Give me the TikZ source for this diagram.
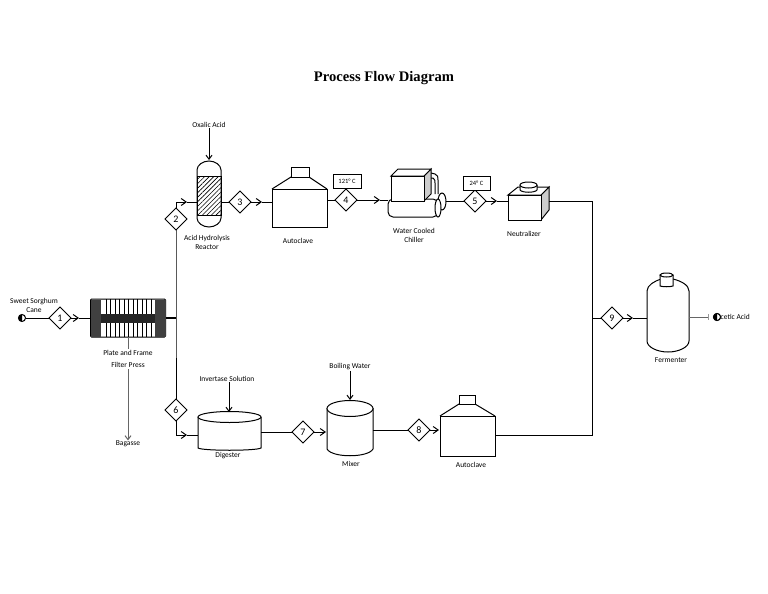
\documentclass[tikz,border=0pt]{standalone}
\usepackage{fontspec}
\setmainfont{Carlito}
\newfontfamily\titlefont{Liberation Serif}
\usetikzlibrary{shapes.geometric,patterns.meta,arrows.meta}
\tikzset{
  label/.style={inner sep=0pt,font=\fontsize{7.5}{9}\selectfont,align=center},
  tag/.style={draw,fill=white,inner sep=0pt,outer sep=0pt,minimum width=28pt,minimum height=14pt,font=\fontsize{6.5}{8}\selectfont},
  stream/.style={diamond,draw,fill=white,inner sep=0pt,outer sep=0pt,minimum width=22pt,minimum height=22pt,font=\fontsize{10}{12}\selectfont},
  body/.style={draw,fill=white,inner sep=0pt,outer sep=0pt},
  port/.style={circle,draw,fill=white,inner sep=0pt,outer sep=0pt,minimum size=7pt},
  flow/.style={-{Straight Barb[length=5pt,width=7pt]}},
  feed/.style={-{Straight Barb[length=4pt,width=6pt]}}
}
\begin{document}
\begin{tikzpicture}[x=1pt,y=-1pt,line width=1pt]
\useasboundingbox (0,0) rectangle (768,594);
\node [inner sep=0pt,font=\titlefont\bfseries\fontsize{14.6}{18}\selectfont] (title) at (384,78) {Process Flow Diagram};

% nodes of the streams
\node [port] (src) at (22,318) {};
\node [port] (out) at (717,317) {};
\node [stream] (s1) at (60,318) {1};
\node [stream] (s2) at (176,219) {2};
\node [stream] (s3) at (240,202) {3};
\node [stream] (s4) at (346,200) {4};
\node [stream] (s5) at (475,201) {5};
\node [stream] (s6) at (176,410) {6};
\node [stream] (s7) at (303,432) {7};
\node [stream] (s8) at (419,430) {8};
\node [stream] (s9) at (612,318) {9};
\node [tag] (t4) at (347,181) {121° C};
\node [tag,minimum width=27pt] (t5) at (476.5,183) {24° C};

% filter press
\node [body,minimum width=75pt,minimum height=38pt,rounded corners=1pt] (press) at (128,318) {};
\foreach \x in {106,110.5,...,152}
  \draw (\x,299) -- (\x,337);
\fill [black!75] (90.5,299.5) rectangle (101,336.5);
\fill [black!75] (155,299.5) rectangle (165.5,336.5);
\fill [black!85] (101,314) rectangle (155,323);

% reactor
\node [body,minimum width=24pt,minimum height=48pt,draw=none] (reactor) at (209,194) {};
\draw [fill=white] (reactor.north west) .. controls (197,165) and (203,161) .. (209,161)
  .. controls (215,161) and (221,165) .. (reactor.north east) -- (reactor.south east)
  .. controls (221,223) and (215,227) .. (209,227) .. controls (203,227) and (197,223) .. (reactor.south west) -- cycle;
\draw [pattern={Lines[angle=45,distance=3.2pt,line width=0.6pt]}] (197,176) rectangle (221,215);

% first autoclave
\node [body,minimum width=55pt,minimum height=38pt] (clave1) at (299.5,208) {};
\node [body,minimum width=18pt,minimum height=10pt] (cap1) at (300,172) {};
\draw (clave1.north west) -- (cap1.south west);
\draw (clave1.north east) -- (cap1.south east);

% chiller
\draw (431,173) -- (435,174) .. controls (438,175) and (438,177) .. (438,180) -- (438,194);
\draw (431,178) -- (433,178) .. controls (435,179) and (435,181) .. (435,183) -- (435,194);
\draw [fill=white] (442,201.5) ellipse [x radius=4,y radius=8.5];
\node [body,minimum width=50pt,minimum height=18pt,rounded corners=5pt] (chiller) at (413,208) {};
\draw [fill=white] (438,208) ellipse [x radius=3,y radius=9];
\filldraw [fill=black!20] (424,176) -- (431,169) -- (431,194) -- (424,201) -- cycle;
\draw [fill=white] (391,176) -- (398,169) -- (431,169) -- (424,176) -- cycle;
\node [body,minimum width=33pt,minimum height=25pt] (chillbox) at (407.5,188.5) {};

% neutralizer
\filldraw [fill=black!20] (541,195) -- (549,187) -- (549,210) -- (541,220) -- cycle;
\draw [fill=white] (508,195) -- (518,187) -- (549,187) -- (541,195) -- cycle;
\node [body,minimum width=33pt,minimum height=25pt] (neutral) at (524.5,207.5) {};
\draw [fill=white] (520,185) -- (520,190) .. controls (522,193) and (535,193) .. (537,190) -- (537,185);
\draw [fill=white] (528.5,185) ellipse [x radius=8.5,y radius=3];

% fermenter
\node [body,minimum width=42pt,minimum height=50pt,draw=none] (ferm) at (668,316) {};
\draw [fill=white] (ferm.north west) .. controls (647,285) and (655,281) .. (661,279)
  -- (673,279) .. controls (681,281) and (689,285) .. (ferm.north east) -- (ferm.south east)
  .. controls (689,347) and (679,352) .. (668,352) .. controls (657,352) and (647,347) .. (ferm.south west) -- cycle;
\draw [fill=white] (660,275) -- (660,286) .. controls (663,287) and (670,287) .. (673,286) -- (673,275);
\draw [fill=white] (666.5,275) ellipse [x radius=6.5,y radius=2];

% digester
\node [body,minimum width=63pt,minimum height=31pt,draw=none] (digest) at (229.5,432.5) {};
\draw [fill=white] (digest.north west) -- (digest.south west) .. controls (203,451) and (256,451) .. (digest.south east) -- (digest.north east);
\draw [fill=white] (229.5,417) ellipse [x radius=31.5,y radius=5.5];

% mixer
\node [body,minimum width=46pt,minimum height=41pt,draw=none] (mixer) at (350,428.5) {};
\draw [fill=white] (mixer.north west) -- (mixer.south west) .. controls (332,458) and (368,458) .. (mixer.south east) -- (mixer.north east);
\draw [fill=white] (350,408.5) ellipse [x radius=23,y radius=8];

% second autoclave
\node [body,minimum width=55pt,minimum height=40pt] (clave2) at (467.5,436) {};
\node [body,minimum width=16pt,minimum height=9pt] (cap2) at (467,399.5) {};
\draw (clave2.north west) -- (cap2.south west);
\draw (clave2.north east) -- (cap2.south east);

% names
\node [label] (nsweet) at (34,305) {Sweet Sorghum\\Cane};
\node [label] (nox) at (209,125) {Oxalic Acid};
\node [label] (nreact) at (207,242) {Acid Hydrolysis\\Reactor};
\node [label] (nclave1) at (298,241) {Autoclave};
\node [label] (nchill) at (414,235) {Water Cooled\\Chiller};
\node [label] (nneut) at (524,234) {Neutralizer};
\node [label] (nferm) at (671,360) {Fermenter};
\node [label] (nbag) at (128,444) {Bagasse};
\node [label] (ninv) at (227,379) {Invertase Solution};
\node [label] (ndig) at (228,456) {Digester};
\node [label] (nboil) at (350,367) {Boiling Water};
\node [label] (nmix) at (351,464) {Mixer};
\node [label] (nclave2) at (471,465) {Autoclave};

% free points of the lines
\coordinate (a1) at (79,318);
\coordinate (j) at (176,318);
\coordinate (b2) at (176,202);
\coordinate (a2) at (187,202);
\coordinate (a3) at (262,202);
\coordinate (a4) at (380,200);
\coordinate (a5) at (497,201);
\coordinate (b6) at (176,435);
\coordinate (a6) at (187,435);
\coordinate (a7) at (326,432);
\coordinate (a8) at (439,430);
\coordinate (c0) at (549,201);
\coordinate (c1) at (592,201);
\coordinate (c2) at (592,435);
\coordinate (c3) at (592,318);
\coordinate (a9) at (633,318);
\coordinate (tick) at (708,317);
\coordinate (c4) at (446,201);

% lines
\draw (src) -- (s1);
\draw [flow] (s1) -- (a1);
\draw (a1) -- (press.west |- a1);
\draw [line width=1.8pt] (press.east |- j) -- (j);
\draw (s2) -- (j) -- (s6);
\draw (s2) -- (b2);
\draw [flow] (b2) -- (a2);
\draw (a2) -- (reactor.west |- a2);
\draw (reactor.east |- s3) -- (s3);
\draw [flow] (s3) -- (a3);
\draw (a3) -- (clave1.west |- a3);
\draw (clave1.east |- s4) -- (s4);
\draw [flow] (s4) -- (a4);
\draw (a4) -- (chiller.west |- a4);
\draw (c4) -- (s5);
\draw [flow] (s5) -- (a5);
\draw (a5) -- (neutral.west |- a5);
\draw (c0) -- (c1) -- (c2) -- (clave2.east |- c2);
\draw (s6) -- (b6);
\draw [flow] (b6) -- (a6);
\draw (a6) -- (digest.west |- a6);
\draw (digest.east |- s7) -- (s7);
\draw [flow] (s7) -- (a7);
\draw (mixer.east |- s8) -- (s8);
\draw [flow] (s8) -- (a8);
\draw (c3) -- (s9);
\draw [flow] (s9) -- (a9);
\draw (a9) -- (ferm.west |- a9);
\draw [black!60] (ferm.east |- tick) -- (tick);
\draw [black!40] (708,314) -- (708,320);
\draw [feed,black!60] (press.south) -- (nbag.north);
\node [label,fill=white,inner sep=1.5pt] (npress) at (128,359) {Plate and Frame\\[3pt]Filter Press};
\draw [feed] (nox) -- (reactor |- 0,160);
\draw [feed] (ninv.south -| 229,0) -- (229,412);
\draw [feed] (nboil) -- (350,400);

% half filled ports
\fill (src.north) .. controls (19,314) and (18.5,316) .. (18.5,318) .. controls (18.5,320) and (19,322) .. (src.south) -- cycle;
\node [label] (nacetic) at (733,317) {Acetic Acid};
\node [port] (out2) at (717,317) {};
\fill (out2.north) .. controls (714,314) and (713.5,316) .. (713.5,317) .. controls (713.5,319) and (714,320) .. (out2.south) -- cycle;
\end{tikzpicture}
\end{document}
